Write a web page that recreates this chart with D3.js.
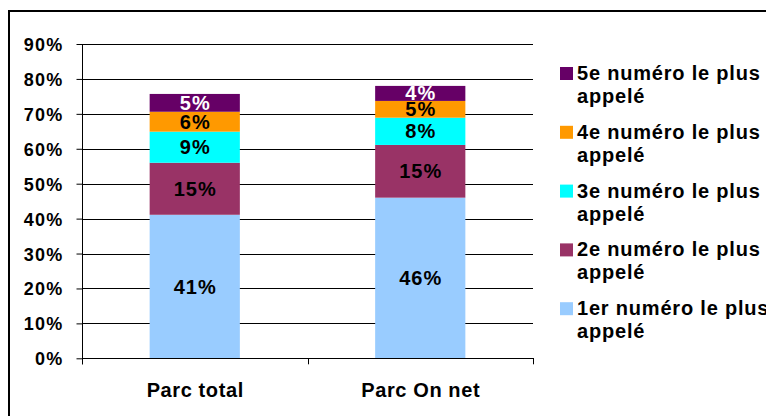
<!DOCTYPE html>
<html><head><meta charset="utf-8">
<script src="https://cdn.jsdelivr.net/npm/d3@7"></script>
<style>
html,body{margin:0;padding:0;background:#fff;}
text{font-family:"Liberation Sans",Arial,sans-serif;font-weight:bold;}
</style></head>
<body><svg id="c" width="766" height="416"></svg>
<script>
const categories = ["Parc total", "Parc On net"];
const seriesNames = ["1er numéro le plus appelé","2e numéro le plus appelé","3e numéro le plus appelé","4e numéro le plus appelé","5e numéro le plus appelé"];
const legendLines = [["1er numéro le plus","appelé"],["2e numéro le plus","appelé"],["3e numéro le plus","appelé"],["4e numéro le plus","appelé"],["5e numéro le plus","appelé"]];
const s1 = [41.1, 46.0];
const s2 = [14.9, 15.1];
const s3 = [8.9, 7.8];
const s4 = [5.7, 4.8];
const s5 = [5.1, 4.3];
const colors = ["#99CCFF","#993366","#00FFFF","#FF9900","#660066"];
const labelColors = ["#000","#000","#000","#000","#fff"];
const yTicks = [0,10,20,30,40,50,60,70,80,90];

const series = [s1,s2,s3,s4,s5];
const rows = categories.map((c,i)=>{const r={cat:c}; series.forEach((s,k)=>r["k"+k]=s[i]); return r;});
const keys = series.map((s,k)=>"k"+k);
const stacked = d3.stack().keys(keys)(rows);

const svg = d3.select("#c");
const L=82, R=533, T=44, B=358.3;
const x = d3.scaleBand().domain(categories).range([L,R]).paddingInner(0.6).paddingOuter(0.3);
const y = d3.scaleLinear().domain([0,90]).range([B,T]);

// outer border
svg.append("rect").attr("x",9).attr("y",11).attr("width",820).attr("height",520)
  .attr("fill","none").attr("stroke","#000").attr("stroke-width",2);

// gridlines
svg.append("g").selectAll("line").data(yTicks.filter(t=>t>0)).join("line")
  .attr("x1",L).attr("x2",R).attr("y1",d=>Math.round(y(d))+0.5).attr("y2",d=>Math.round(y(d))+0.5)
  .attr("stroke","#000").attr("stroke-width",1);

// bars
const g = svg.append("g");
stacked.forEach((layer,k)=>{
  g.selectAll(".b"+k).data(layer).join("rect")
    .attr("x",d=>x(d.data.cat)).attr("width",x.bandwidth())
    .attr("y",d=>y(d[1])).attr("height",d=>y(d[0])-y(d[1]))
    .attr("fill",colors[k]);
});
// labels
stacked.forEach((layer,k)=>{
  g.selectAll(".t"+k).data(layer).join("text")
    .attr("x",d=>x(d.data.cat)+x.bandwidth()/2+0.5)
    .attr("y",d=>(y(d[0])+y(d[1]))/2+7)
    .attr("text-anchor","middle").attr("font-size",20).attr("letter-spacing","1px")
    .attr("fill",labelColors[k])
    .text(d=>Math.round(d[1]-d[0])+"%");
});

// y axis
const ya = svg.append("g").attr("transform",`translate(${L+0.5},0)`)
  .call(d3.axisLeft(y).tickValues(yTicks).tickSize(6).tickPadding(13).tickFormat(d=>d+"%"));
ya.select(".domain").remove();
ya.selectAll(".tick line").attr("stroke","#000");
ya.selectAll(".tick text").attr("font-size",18).attr("fill","#000").attr("letter-spacing","1.2px")
  .attr("font-family","Liberation Sans,Arial,sans-serif").attr("font-weight","bold").attr("dy","0.36em");
svg.append("line").attr("x1",L+0.5).attr("x2",L+0.5).attr("y1",T).attr("y2",B+6).attr("stroke","#000");

// x axis
svg.append("line").attr("x1",L).attr("x2",R+1).attr("y1",Math.round(B)+0.5).attr("y2",Math.round(B)+0.5).attr("stroke","#000");
const bounds=[L, (L+R)/2, R];
svg.append("g").selectAll("line").data(bounds).join("line")
  .attr("x1",d=>Math.round(d)+0.5).attr("x2",d=>Math.round(d)+0.5)
  .attr("y1",B).attr("y2",B+6).attr("stroke","#000");
svg.append("g").selectAll("text").data(categories).join("text")
  .attr("x",d=>x(d)+x.bandwidth()/2+0.5).attr("y",397).attr("letter-spacing","0.6px")
  .attr("text-anchor","middle").attr("font-size",20).attr("fill","#000").text(d=>d);

// legend (top: 5e)
const order=[4,3,2,1,0];
const lg = svg.append("g");
order.forEach((k,i)=>{
  const by = 80 + i*58.8;
  lg.append("rect").attr("x",560).attr("y",by-13).attr("width",13).attr("height",13).attr("fill",colors[k]);
  const t = lg.append("text").attr("x",577).attr("y",by).attr("font-size",20).attr("letter-spacing","0.8px").attr("fill","#000");
  t.append("tspan").attr("x",577).text(legendLines[k][0]);
  t.append("tspan").attr("x",577).attr("dy",23).text(legendLines[k][1]);
});
</script></body></html>
